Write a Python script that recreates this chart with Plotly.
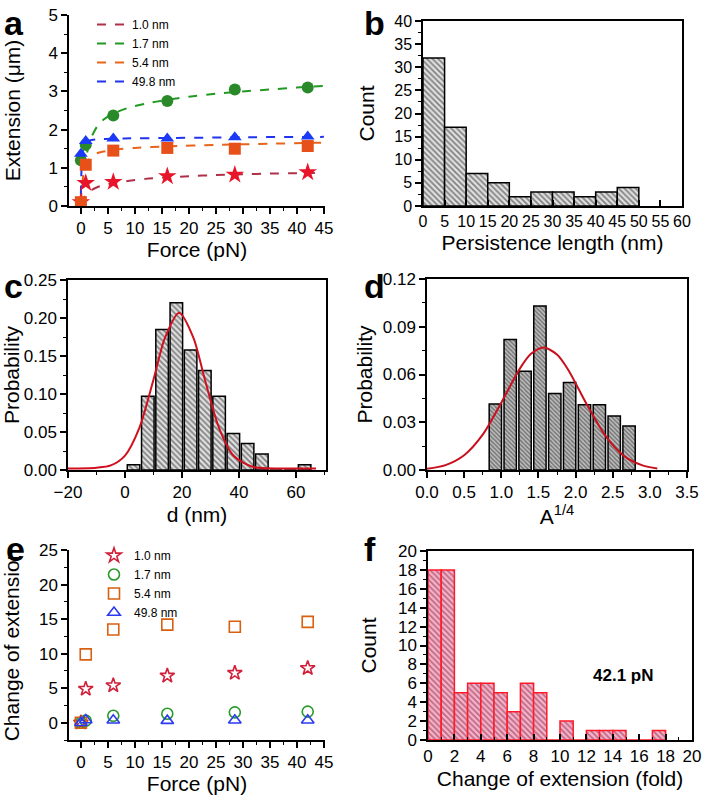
import plotly.graph_objects as go

# ---------------- data ----------------
# Panel a: extension vs force
force_pts = [0, 0.9, 6, 16, 28.5, 42]
ext_10 = [0.1, 0.6, 0.63, 0.78, 0.82, 0.88]
ext_17 = [1.2, 1.6, 2.37, 2.75, 3.05, 3.1]
ext_54 = [0.1, 1.08, 1.45, 1.52, 1.5, 1.57]
ext_498 = [1.37, 1.7, 1.77, 1.77, 1.8, 1.82]

fit10_x = [0, 0.5, 1, 2, 3, 4, 6, 9, 12, 16, 20, 25, 30, 35, 40, 45]
fit10_y = [0.05, 0.2, 0.3, 0.42, 0.49, 0.54, 0.6, 0.66, 0.71, 0.75, 0.78, 0.81, 0.83, 0.85, 0.86, 0.87]
fit17_x = [0, 0.3, 0.6, 1, 1.5, 2, 3, 4, 6, 9, 12, 16, 20, 25, 30, 35, 40, 45]
fit17_y = [0, 0.5, 0.9, 1.3, 1.6, 1.82, 2.08, 2.24, 2.42, 2.58, 2.68, 2.78, 2.86, 2.94, 3.0, 3.05, 3.1, 3.14]
fit54_x = [0, 0.2, 0.5, 1, 1.5, 2, 3, 4, 6, 10, 16, 25, 35, 45]
fit54_y = [0.1, 0.5, 0.85, 1.1, 1.22, 1.3, 1.38, 1.42, 1.47, 1.52, 1.56, 1.6, 1.63, 1.66]
fit498_x = [0, 0.1, 0.3, 0.6, 1, 2, 4, 8, 16, 30, 45]
fit498_y = [0.3, 0.9, 1.4, 1.6, 1.68, 1.73, 1.75, 1.77, 1.78, 1.8, 1.81]

series_names = ["1.0 nm", "1.7 nm", "5.4 nm", "49.8 nm"]

# Panel b: persistence length histogram
pl_bins = [2.5, 7.5, 12.5, 17.5, 22.5, 27.5, 32.5, 37.5, 42.5, 47.5]
pl_counts = [32, 17, 7, 5, 2, 3, 3, 2, 3, 4]

# Panel c: d histogram + gaussian fit
d_bins = [3, 8, 13, 18, 23, 28, 33, 38, 43, 48, 53, 58, 63]
d_prob = [0.007, 0.097, 0.185, 0.22, 0.158, 0.131, 0.097, 0.048, 0.035, 0.021, 0, 0, 0.007]
d_fit_x = [-20, -10, -5, 0, 5, 10, 14, 19, 24, 28, 33, 38, 45, 55, 67]
d_fit_y = [0.002, 0.003, 0.006, 0.019, 0.055, 0.119, 0.174, 0.207, 0.174, 0.119, 0.055, 0.019, 0.004, 0.002, 0.002]

# Panel d: A^1/4 histogram + gaussian fit
a_bins = [0.92, 1.12, 1.32, 1.52, 1.72, 1.92, 2.12, 2.32, 2.52, 2.72]
a_prob = [0.0415, 0.082, 0.062, 0.103, 0.048, 0.055, 0.041, 0.041, 0.034, 0.0277]
a_fit_x = [0, 0.25, 0.5, 0.75, 1.0, 1.25, 1.4, 1.57, 1.75, 1.9, 2.15, 2.4, 2.65, 2.9, 3.1]
a_fit_y = [0.0008, 0.0031, 0.0093, 0.0222, 0.0423, 0.0637, 0.073, 0.077, 0.0725, 0.063, 0.0413, 0.0216, 0.0089, 0.0029, 0.001]

# Panel e: change of extension
chg_10 = [0, 4.9, 5.4, 6.8, 7.2, 7.9]
chg_17 = [0, 0.3, 1.0, 1.3, 1.5, 1.6]
chg_54 = [0, 9.9, 13.5, 14.2, 13.9, 14.6]
chg_498 = [0, 0.4, 0.35, 0.3, 0.35, 0.35]

# Panel f: change of extension (fold) histogram at 42.1 pN
fold_bins = [0.5, 1.5, 2.5, 3.5, 4.5, 5.5, 6.5, 7.5, 8.5, 9.5, 10.5, 11.5, 12.5, 13.5, 14.5, 15.5, 16.5, 17.5]
fold_counts = [18, 18, 5, 6, 6, 5, 3, 6, 5, 0, 2, 0, 1, 1, 1, 0, 0, 1]

# ---------------- figure ----------------
FONT = "Liberation Sans, Arial, sans-serif"
fig = go.Figure()

line_cols = ["#b03048", "#229922", "#e8641a", "#2233ee"]
mark_cols = ["#e8152a", "#2a8a2a", "#e8501a", "#1a3af5"]
symbols = ["star", "circle", "square", "triangle-up"]

fits = [(fit10_x, fit10_y), (fit17_x, fit17_y), (fit54_x, fit54_y), (fit498_x, fit498_y)]
exts = [ext_10, ext_17, ext_54, ext_498]
for i in range(4):
    fig.add_trace(go.Scatter(x=fits[i][0], y=fits[i][1], mode="lines", name=series_names[i],
                             line=dict(color=line_cols[i], width=2, dash="dash", shape="spline", smoothing=0.6),
                             xaxis="x", yaxis="y", legend="legend"))
for i in range(4):
    fig.add_trace(go.Scatter(x=force_pts, y=exts[i], mode="markers", showlegend=False,
                             marker=dict(symbol=symbols[i], color=mark_cols[i], size=12 if i else 14,
                                         line=dict(width=0)),
                             xaxis="x", yaxis="y"))

# panel b
fig.add_trace(go.Bar(x=pl_bins, y=pl_counts, width=5, showlegend=False,
                     marker=dict(color="#d0d0d0", line=dict(color="black", width=1.5),
                                 pattern=dict(shape="\\", fgcolor="#222222", bgcolor="#e0e0e0", size=4, solidity=0.45)),
                     xaxis="x2", yaxis="y2"))

# panel c
fig.add_trace(go.Bar(x=d_bins, y=d_prob, width=4.4, showlegend=False,
                     marker=dict(color="#d0d0d0", line=dict(color="black", width=1.5),
                                 pattern=dict(shape="\\", fgcolor="#222222", bgcolor="#e0e0e0", size=4, solidity=0.45)),
                     xaxis="x3", yaxis="y3"))
fig.add_trace(go.Scatter(x=d_fit_x, y=d_fit_y, mode="lines", showlegend=False,
                         line=dict(color="#d0101e", width=2, shape="spline", smoothing=0.8),
                         xaxis="x3", yaxis="y3"))

# panel d
fig.add_trace(go.Bar(x=a_bins, y=a_prob, width=0.166, showlegend=False,
                     marker=dict(color="#c0c0c0", line=dict(color="black", width=1.5),
                                 pattern=dict(shape="\\", fgcolor="#222222", bgcolor="#bdbdbd", size=3, solidity=0.45)),
                     xaxis="x4", yaxis="y4"))
fig.add_trace(go.Scatter(x=a_fit_x, y=a_fit_y, mode="lines", showlegend=False,
                         line=dict(color="#c8101e", width=2, shape="spline", smoothing=0.8),
                         xaxis="x4", yaxis="y4"))

# panel e
chgs = [chg_10, chg_17, chg_54, chg_498]
e_cols = ["#d0203a", "#2a9a2a", "#d86010", "#2a3af0"]
for i in range(4):
    fig.add_trace(go.Scatter(x=force_pts, y=chgs[i], mode="markers", name=series_names[i],
                             marker=dict(symbol=symbols[i] + "-open", color=e_cols[i], size=11,
                                         line=dict(width=1.6, color=e_cols[i])),
                             xaxis="x5", yaxis="y5", legend="legend2"))

# panel f
fig.add_trace(go.Bar(x=fold_bins, y=fold_counts, width=1, showlegend=False,
                     marker=dict(color="#f0a0b8", line=dict(color="#ff1a2a", width=1.5),
                                 pattern=dict(shape="\\", fgcolor="#8a1a44", bgcolor="#f4b4c8", size=4, solidity=0.45)),
                     xaxis="x6", yaxis="y6"))

W, H = 702, 795
def dom_x(a, b):
    return [a / W, b / W]
def dom_y(top, bot):
    return [1 - bot / H, 1 - top / H]

tickfont = dict(family=FONT, size=17, color="black")
titlefont = dict(family=FONT, size=21, color="black")

def ax(domain, anchor, rng, dtick, minor_dtick, title, standoff, mirror=False, ticks="outside",
       tickformat=None, tfont=None):
    d = dict(domain=domain, anchor=anchor, range=rng, dtick=dtick, tick0=0, automargin=False,
             showgrid=False, zeroline=False, showline=True, linecolor="black", linewidth=1.5,
             mirror=mirror, ticks=ticks, ticklen=6, tickwidth=1.5, tickcolor="black",
             tickfont=tfont or tickfont,
             title=dict(text=title, font=titlefont, standoff=standoff))
    if minor_dtick:
        d["minor"] = dict(dtick=minor_dtick, ticks=ticks, ticklen=3, tickwidth=1.2, tickcolor="black", showgrid=False)
    if tickformat:
        d["tickformat"] = tickformat
    return d

layout = dict(
    width=W, height=H, margin=dict(l=0, r=0, t=0, b=0),
    paper_bgcolor="white", plot_bgcolor="white",
    font=dict(family=FONT, color="black"),
    xaxis=ax(dom_x(69, 325), "y", [-2.2, 45.2], 5, 2.5, "Force (pN)", 2),
    yaxis=ax(dom_y(15, 206), "x", [0, 5], 1, 0.5, "Extension (μm)", 22),
    xaxis2=ax(dom_x(423, 682), "y2", [0, 60], 5, None, "Persistence length (nm)", 6, mirror=True, ticks="inside",
              tfont=dict(family=FONT, size=16, color="black")),
    yaxis2=ax(dom_y(21, 206), "x2", [0, 40], 5, 2.5, "Count", 14, mirror=True,
              tfont=dict(family=FONT, size=16, color="black")),
    xaxis3=ax(dom_x(68, 326), "y3", [-20, 70.5], 20, 10, "d (nm)", 6, mirror=True),
    yaxis3=ax(dom_y(280, 470), "x3", [0, 0.25], 0.05, 0.025, "Probability", 2, mirror=True, tickformat=".2f"),
    xaxis4=ax(dom_x(427, 687), "y4", [0, 3.5], 0.5, 0.25, "A<sup>1/4</sup>", 4, mirror=True, tickformat=".1f"),
    yaxis4=ax(dom_y(279, 470), "x4", [0, 0.12], 0.03, 0.015, "Probability", 4, mirror=True, tickformat=".2f"),
    xaxis5=ax(dom_x(69, 325), "y5", [-2.2, 45.2], 5, 2.5, "Force (pN)", 8),
    yaxis5=ax(dom_y(550, 740), "x5", [-2.5, 25], 5, 2.5, "Change of extension", 16),
    xaxis6=ax(dom_x(428, 692), "y6", [0, 20], 2, 1, "Change of extension (fold)", 6, mirror=True, ticks="inside"),
    yaxis6=ax(dom_y(551, 740), "x6", [0, 20], 2, 1, "Count", 16, mirror=True),
    legend=dict(x=92 / W, y=1 - 10 / H, xanchor="left", yanchor="top", bgcolor="rgba(0,0,0,0)",
                font=dict(family=FONT, size=12, color="black"), itemwidth=30, tracegroupgap=0),
    legend2=dict(x=94 / W, y=1 - 541 / H, xanchor="left", yanchor="top", bgcolor="rgba(0,0,0,0)",
                 font=dict(family=FONT, size=12, color="black"), itemwidth=30, tracegroupgap=0),
)
fig.update_layout(**layout)

panel_labels = [("a", 2, 2), ("b", 362, 2), ("c", 2, 265), ("d", 362, 265), ("e", 4, 528), ("f", 362, 528)]
for txt, px, py in panel_labels:
    fig.add_annotation(text="<b>%s</b>" % txt, xref="paper", yref="paper", x=px / W, y=1 - py / H,
                       xanchor="left", yanchor="top", showarrow=False,
                       font=dict(family=FONT, size=34, color="black"))

fig.add_annotation(text="<b>42.1 pN</b>", xref="x6", yref="y6", x=14.8, y=6.8, showarrow=False,
                   font=dict(family=FONT, size=17, color="black"))

fig.write_html("out.html", config={"displayModeBar": False},
               post_script="document.body.style.margin='0';document.body.style.overflow='hidden';")
